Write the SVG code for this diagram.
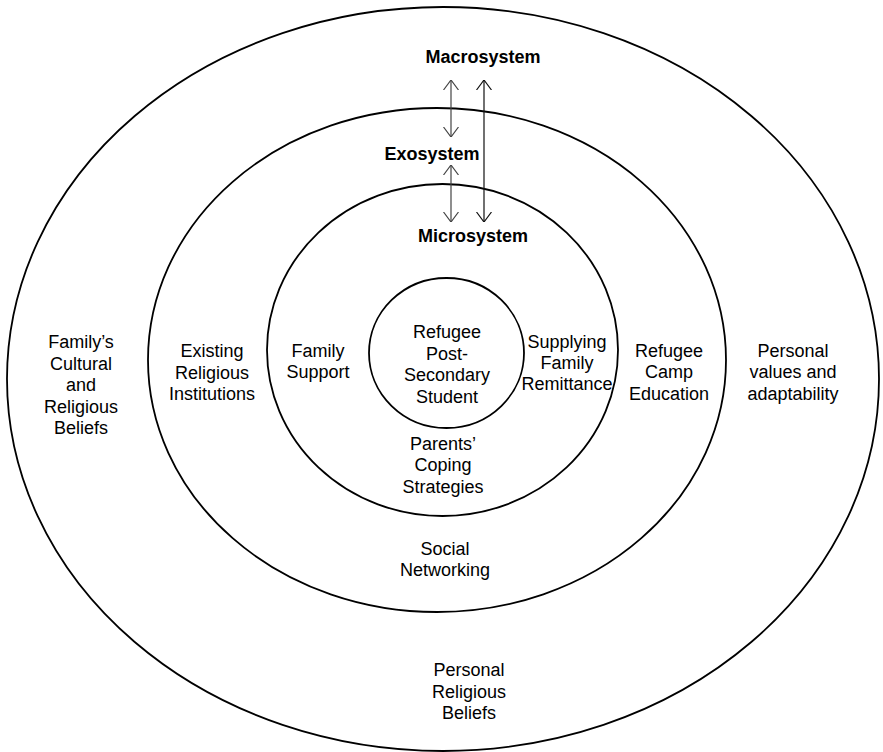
<svg xmlns="http://www.w3.org/2000/svg" width="883" height="752" viewBox="0 0 883 752">
<style>
.ring{fill:none;stroke:#000;stroke-width:1.8}
.lbl{font-family:"Liberation Sans",Arial,sans-serif;font-size:18px;fill:#000;text-anchor:middle}
.hd{font-family:"Liberation Sans",Arial,sans-serif;font-size:18px;font-weight:bold;fill:#000;text-anchor:middle}
.arr{stroke-width:1.2;fill:none}
.a1{stroke:#444;marker-start:url(#ah1);marker-end:url(#ah1)}
.a2{stroke:#111;marker-start:url(#ah2);marker-end:url(#ah2)}
</style>
<defs>
<marker id="ah1" viewBox="0 0 10 16" refX="10" refY="8" markerWidth="10" markerHeight="16" markerUnits="userSpaceOnUse" orient="auto-start-reverse">
<path d="M0,0.5 L10,8 L0,15.5" fill="none" stroke="#444" stroke-width="1.2"/>
</marker>
<marker id="ah2" viewBox="0 0 10 16" refX="10" refY="8" markerWidth="10" markerHeight="16" markerUnits="userSpaceOnUse" orient="auto-start-reverse">
<path d="M0,0.5 L10,8 L0,15.5" fill="none" stroke="#111" stroke-width="1.2"/>
</marker>
</defs>
<rect width="883" height="752" fill="#fff"/>
<g id="macrosystem">
<ellipse class="ring" cx="443" cy="379" rx="436" ry="372"/>
<text class="hd" x="483" y="63">Macrosystem</text>
<text class="lbl"><tspan x="81" y="348">Family’s</tspan><tspan x="81" y="370">Cultural</tspan><tspan x="81" y="391">and</tspan><tspan x="81" y="413">Religious</tspan><tspan x="81" y="434">Beliefs</tspan></text>
<text class="lbl"><tspan x="793" y="357">Personal</tspan><tspan x="793" y="378">values and</tspan><tspan x="793" y="400">adaptability</tspan></text>
<text class="lbl"><tspan x="469" y="676">Personal</tspan><tspan x="469" y="698">Religious</tspan><tspan x="469" y="719">Beliefs</tspan></text>
</g>
<g id="exosystem">
<ellipse class="ring" cx="437" cy="360" rx="289" ry="252"/>
<text class="hd" x="432" y="160">Exosystem</text>
<text class="lbl"><tspan x="212" y="357">Existing</tspan><tspan x="212" y="379">Religious</tspan><tspan x="212" y="400">Institutions</tspan></text>
<text class="lbl"><tspan x="669" y="357">Refugee</tspan><tspan x="669" y="378">Camp</tspan><tspan x="669" y="400">Education</tspan></text>
<text class="lbl"><tspan x="445" y="555">Social</tspan><tspan x="445" y="576">Networking</tspan></text>
</g>
<g id="microsystem">
<ellipse class="ring" cx="442.5" cy="350" rx="175.5" ry="166"/>
<text class="hd" x="473" y="242">Microsystem</text>
<text class="lbl"><tspan x="318" y="357">Family</tspan><tspan x="318" y="378">Support</tspan></text>
<text class="lbl"><tspan x="567" y="348">Supplying</tspan><tspan x="567" y="369">Family</tspan><tspan x="567" y="390">Remittance</tspan></text>
<text class="lbl"><tspan x="443" y="450">Parents’</tspan><tspan x="443" y="471">Coping</tspan><tspan x="443" y="493">Strategies</tspan></text>
</g>
<g id="student">
<ellipse class="ring" cx="446.5" cy="353" rx="77.5" ry="75" stroke-width="1.5"/>
<text class="lbl"><tspan x="447" y="338">Refugee</tspan><tspan x="447" y="360">Post-</tspan><tspan x="447" y="381">Secondary</tspan><tspan x="447" y="403">Student</tspan></text>
</g>
<g id="connectors">
<line class="arr a1" x1="451" y1="80" x2="451" y2="137"/>
<line class="arr a1" x1="451" y1="165" x2="451" y2="222"/>
<line class="arr a2" x1="484" y1="80" x2="484" y2="222"/>
</g>
</svg>
